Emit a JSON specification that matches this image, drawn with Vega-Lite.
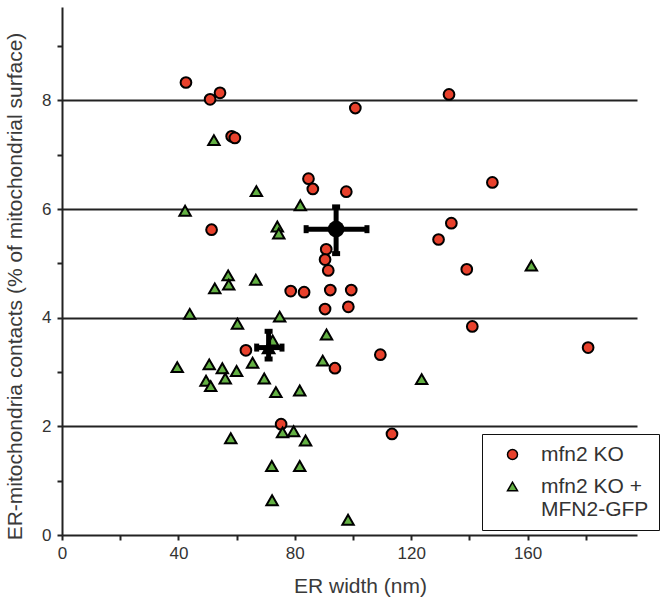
{
  "$schema": "https://vega.github.io/schema/vega-lite/v6.json",
  "width": 575,
  "height": 528,
  "autosize": {"type": "none"},
  "padding": {"left": 62, "top": 7, "right": 24, "bottom": 67},
  "background": "white",
  "config": {
    "view": {"stroke": null},
    "font": "Liberation Sans",
    "axis": {
      "domainColor": "#222222",
      "domainWidth": 2,
      "tickColor": "#222222",
      "tickWidth": 2,
      "tickSize": 5,
      "labelFont": "Liberation Sans",
      "labelFontSize": 17,
      "labelColor": "#333333",
      "titleFont": "Liberation Sans",
      "titleFontSize": 21,
      "titleFontWeight": "normal",
      "titleColor": "#3a3a3a"
    },
    "legend": {
      "labelFont": "Liberation Sans",
      "labelFontSize": 21,
      "labelColor": "#333333"
    }
  },
  "datasets": {
    "pts": [
      {"group": "mfn2 KO", "width": 42.6, "contacts": 8.33},
      {"group": "mfn2 KO", "width": 50.9, "contacts": 8.02},
      {"group": "mfn2 KO", "width": 54.3, "contacts": 8.14},
      {"group": "mfn2 KO", "width": 100.8, "contacts": 7.86},
      {"group": "mfn2 KO", "width": 133.0, "contacts": 8.11},
      {"group": "mfn2 KO", "width": 58.3, "contacts": 7.34},
      {"group": "mfn2 KO", "width": 59.4, "contacts": 7.31},
      {"group": "mfn2 KO", "width": 84.7, "contacts": 6.56},
      {"group": "mfn2 KO", "width": 86.2, "contacts": 6.37},
      {"group": "mfn2 KO", "width": 97.7, "contacts": 6.32},
      {"group": "mfn2 KO", "width": 147.9, "contacts": 6.49},
      {"group": "mfn2 KO", "width": 51.4, "contacts": 5.62},
      {"group": "mfn2 KO", "width": 133.8, "contacts": 5.74},
      {"group": "mfn2 KO", "width": 129.4, "contacts": 5.44},
      {"group": "mfn2 KO", "width": 139.1, "contacts": 4.89},
      {"group": "mfn2 KO", "width": 90.8, "contacts": 5.26},
      {"group": "mfn2 KO", "width": 90.4, "contacts": 5.07},
      {"group": "mfn2 KO", "width": 91.5, "contacts": 4.87},
      {"group": "mfn2 KO", "width": 78.6, "contacts": 4.49},
      {"group": "mfn2 KO", "width": 83.2, "contacts": 4.47},
      {"group": "mfn2 KO", "width": 92.2, "contacts": 4.51},
      {"group": "mfn2 KO", "width": 99.4, "contacts": 4.51},
      {"group": "mfn2 KO", "width": 90.4, "contacts": 4.16},
      {"group": "mfn2 KO", "width": 98.4, "contacts": 4.2},
      {"group": "mfn2 KO", "width": 141.0, "contacts": 3.84},
      {"group": "mfn2 KO", "width": 63.2, "contacts": 3.4},
      {"group": "mfn2 KO", "width": 109.4, "contacts": 3.32},
      {"group": "mfn2 KO", "width": 93.8, "contacts": 3.07},
      {"group": "mfn2 KO", "width": 180.8, "contacts": 3.45},
      {"group": "mfn2 KO", "width": 75.3, "contacts": 2.04},
      {"group": "mfn2 KO", "width": 113.4, "contacts": 1.86},
      {"group": "mfn2 KO + MFN2-GFP", "width": 52.2, "contacts": 7.27},
      {"group": "mfn2 KO + MFN2-GFP", "width": 66.8, "contacts": 6.33},
      {"group": "mfn2 KO + MFN2-GFP", "width": 42.3, "contacts": 5.97},
      {"group": "mfn2 KO + MFN2-GFP", "width": 81.9, "contacts": 6.07},
      {"group": "mfn2 KO + MFN2-GFP", "width": 74.0, "contacts": 5.68},
      {"group": "mfn2 KO + MFN2-GFP", "width": 74.5, "contacts": 5.55},
      {"group": "mfn2 KO + MFN2-GFP", "width": 57.1, "contacts": 4.78},
      {"group": "mfn2 KO + MFN2-GFP", "width": 57.3, "contacts": 4.61},
      {"group": "mfn2 KO + MFN2-GFP", "width": 66.6, "contacts": 4.7},
      {"group": "mfn2 KO + MFN2-GFP", "width": 52.5, "contacts": 4.54},
      {"group": "mfn2 KO + MFN2-GFP", "width": 161.3, "contacts": 4.96},
      {"group": "mfn2 KO + MFN2-GFP", "width": 43.9, "contacts": 4.07},
      {"group": "mfn2 KO + MFN2-GFP", "width": 74.8, "contacts": 4.02},
      {"group": "mfn2 KO + MFN2-GFP", "width": 60.3, "contacts": 3.89},
      {"group": "mfn2 KO + MFN2-GFP", "width": 90.9, "contacts": 3.69},
      {"group": "mfn2 KO + MFN2-GFP", "width": 72.4, "contacts": 3.58},
      {"group": "mfn2 KO + MFN2-GFP", "width": 39.6, "contacts": 3.09},
      {"group": "mfn2 KO + MFN2-GFP", "width": 50.6, "contacts": 3.14},
      {"group": "mfn2 KO + MFN2-GFP", "width": 55.1, "contacts": 3.07},
      {"group": "mfn2 KO + MFN2-GFP", "width": 60.0, "contacts": 3.02},
      {"group": "mfn2 KO + MFN2-GFP", "width": 65.5, "contacts": 3.17},
      {"group": "mfn2 KO + MFN2-GFP", "width": 89.6, "contacts": 3.21},
      {"group": "mfn2 KO + MFN2-GFP", "width": 49.5, "contacts": 2.84},
      {"group": "mfn2 KO + MFN2-GFP", "width": 51.1, "contacts": 2.74},
      {"group": "mfn2 KO + MFN2-GFP", "width": 56.1, "contacts": 2.88},
      {"group": "mfn2 KO + MFN2-GFP", "width": 69.5, "contacts": 2.88},
      {"group": "mfn2 KO + MFN2-GFP", "width": 73.5, "contacts": 2.63},
      {"group": "mfn2 KO + MFN2-GFP", "width": 81.7, "contacts": 2.66},
      {"group": "mfn2 KO + MFN2-GFP", "width": 123.6, "contacts": 2.87},
      {"group": "mfn2 KO + MFN2-GFP", "width": 58.0, "contacts": 1.78},
      {"group": "mfn2 KO + MFN2-GFP", "width": 75.8, "contacts": 1.89},
      {"group": "mfn2 KO + MFN2-GFP", "width": 79.6, "contacts": 1.91},
      {"group": "mfn2 KO + MFN2-GFP", "width": 83.7, "contacts": 1.74},
      {"group": "mfn2 KO + MFN2-GFP", "width": 72.1, "contacts": 1.27},
      {"group": "mfn2 KO + MFN2-GFP", "width": 81.7, "contacts": 1.27},
      {"group": "mfn2 KO + MFN2-GFP", "width": 72.2, "contacts": 0.64},
      {"group": "mfn2 KO + MFN2-GFP", "width": 98.3, "contacts": 0.28}
    ],
    "means": [
      {"group": "mfn2 KO", "width": 94.2, "contacts": 5.63, "wlo": 83.9, "whi": 104.8, "clo": 5.18, "chi": 6.04},
      {"group": "mfn2 KO + MFN2-GFP", "width": 71.0, "contacts": 3.45, "wlo": 66.9, "whi": 75.6, "clo": 3.24, "chi": 3.75}
    ]
  },
  "layer": [
    {
      "data": {"name": "pts"},
      "mark": {"type": "point", "filled": true, "stroke": "black", "strokeWidth": 2, "opacity": 1},
      "encoding": {
        "x": {
          "field": "width", "type": "quantitative",
          "scale": {"domain": [0, 197.6], "nice": false, "zero": false},
          "axis": {
            "title": "ER width (nm)",
            "values": [0, 20, 40, 60, 80, 100, 120, 140, 160, 180],
            "format": "d",
            "labelExpr": "datum.value % 40 == 0 ? datum.label : ''",
            "grid": false,
            "labelPadding": 5,
            "labelFlush": false,
            "titleX": 298,
            "titleY": 57,
            "titleBaseline": "alphabetic"
          }
        },
        "y": {
          "field": "contacts", "type": "quantitative",
          "scale": {"domain": [0, 9.72], "nice": false, "zero": false},
          "axis": {
            "title": "ER-mitochondria contacts (% of mitochondrial surface)",
            "values": [0, 1, 2, 3, 4, 5, 6, 7, 8, 9],
            "format": "d",
            "labelExpr": "datum.value % 2 == 0 ? datum.label : ''",
            "grid": true,
            "gridColor": "#222222",
            "gridWidth": 2.2,
            "gridOpacity": {"condition": {"test": "datum.value % 2 == 0 && datum.value > 0", "value": 1}, "value": 0},
            "labelPadding": 6,
            "labelFlush": false,
            "titleX": -47,
            "titleY": 279,
            "titleAngle": -90,
            "titleAlign": "center",
            "titleBaseline": "middle"
          }
        },
        "fill": {
          "field": "group", "type": "nominal",
          "scale": {"domain": ["mfn2 KO", "mfn2 KO + MFN2-GFP"], "range": ["#e8412c", "#63b043"]},
          "legend": {
            "title": null,
            "orient": "none",
            "legendX": 420,
            "legendY": 427,
            "strokeColor": "#111111",
            "fillColor": "white",
            "padding": 10,
            "labelLimit": 300,
            "labelFontSize": 21,
            "labelLineHeight": 22,
            "labelOffset": 18,
            "symbolOffset": 10,
            "rowPadding": 10,
            "labelExpr": "datum.label == 'mfn2 KO' ? 'mfn2 KO' : ['mfn2 KO +', 'MFN2-GFP\u00a0\u00a0']",
            "encode": {
              "legend": {"update": {"strokeWidth": {"value": 2.5}}},
              "symbols": {"update": {
                "stroke": {"value": "black"},
                "strokeWidth": {"value": 2},
                "size": {"value": 115},
                "shape": {"signal": "datum.value == 'mfn2 KO' ? 'circle' : 'M0,1.18L-1,2.92L1,2.92Z'"}
              }}
            }
          }
        },
        "shape": {
          "field": "group", "type": "nominal",
          "scale": {"domain": ["mfn2 KO", "mfn2 KO + MFN2-GFP"], "range": ["circle", "triangle-up"]},
          "legend": {
            "title": null,
            "orient": "none",
            "legendX": 420,
            "legendY": 427,
            "strokeColor": "#111111",
            "fillColor": "white",
            "padding": 10,
            "labelLimit": 300,
            "labelFontSize": 21,
            "labelLineHeight": 22,
            "labelOffset": 18,
            "symbolOffset": 10,
            "rowPadding": 10,
            "labelExpr": "datum.label == 'mfn2 KO' ? 'mfn2 KO' : ['mfn2 KO +', 'MFN2-GFP\u00a0\u00a0']",
            "encode": {
              "legend": {"update": {"strokeWidth": {"value": 2.5}}},
              "symbols": {"update": {
                "stroke": {"value": "black"},
                "strokeWidth": {"value": 2},
                "size": {"value": 115},
                "shape": {"signal": "datum.value == 'mfn2 KO' ? 'circle' : 'M0,1.18L-1,2.92L1,2.92Z'"}
              }}
            }
          }
        },
        "size": {
          "field": "group", "type": "nominal",
          "scale": {"domain": ["mfn2 KO", "mfn2 KO + MFN2-GFP"], "range": [115, 130]},
          "legend": null
        }
      }
    },
    {
      "data": {"name": "means"},
      "mark": {"type": "rule", "color": "black", "strokeWidth": 5},
      "encoding": {
        "x": {"field": "wlo", "type": "quantitative"},
        "x2": {"field": "whi"},
        "y": {"field": "contacts", "type": "quantitative"}
      }
    },
    {
      "data": {"name": "means"},
      "mark": {"type": "rule", "color": "black", "strokeWidth": 5},
      "encoding": {
        "y": {"field": "clo", "type": "quantitative"},
        "y2": {"field": "chi"},
        "x": {"field": "width", "type": "quantitative"}
      }
    },
    {
      "data": {"name": "means"},
      "mark": {"type": "tick", "orient": "vertical", "color": "black", "size": 8, "thickness": 5, "opacity": 1},
      "encoding": {
        "x": {"field": "wlo", "type": "quantitative"},
        "y": {"field": "contacts", "type": "quantitative"}
      }
    },
    {
      "data": {"name": "means"},
      "mark": {"type": "tick", "orient": "vertical", "color": "black", "size": 8, "thickness": 5, "opacity": 1},
      "encoding": {
        "x": {"field": "whi", "type": "quantitative"},
        "y": {"field": "contacts", "type": "quantitative"}
      }
    },
    {
      "data": {"name": "means"},
      "mark": {"type": "tick", "orient": "horizontal", "color": "black", "size": 8, "thickness": 5, "opacity": 1},
      "encoding": {
        "x": {"field": "width", "type": "quantitative"},
        "y": {"field": "clo", "type": "quantitative"}
      }
    },
    {
      "data": {"name": "means"},
      "mark": {"type": "tick", "orient": "horizontal", "color": "black", "size": 8, "thickness": 5, "opacity": 1},
      "encoding": {
        "x": {"field": "width", "type": "quantitative"},
        "y": {"field": "chi", "type": "quantitative"}
      }
    },
    {
      "data": {"name": "means"},
      "mark": {"type": "point", "filled": true, "color": "black", "opacity": 1},
      "encoding": {
        "x": {"field": "width", "type": "quantitative"},
        "y": {"field": "contacts", "type": "quantitative"},
        "shape": {"field": "group", "type": "nominal", "legend": null},
        "size": {"field": "group", "type": "nominal", "scale": {"domain": ["mfn2 KO", "mfn2 KO + MFN2-GFP"], "range": [280, 230]}, "legend": null}
      }
    }
  ],
  "resolve": {"scale": {"size": "independent"}}
}
